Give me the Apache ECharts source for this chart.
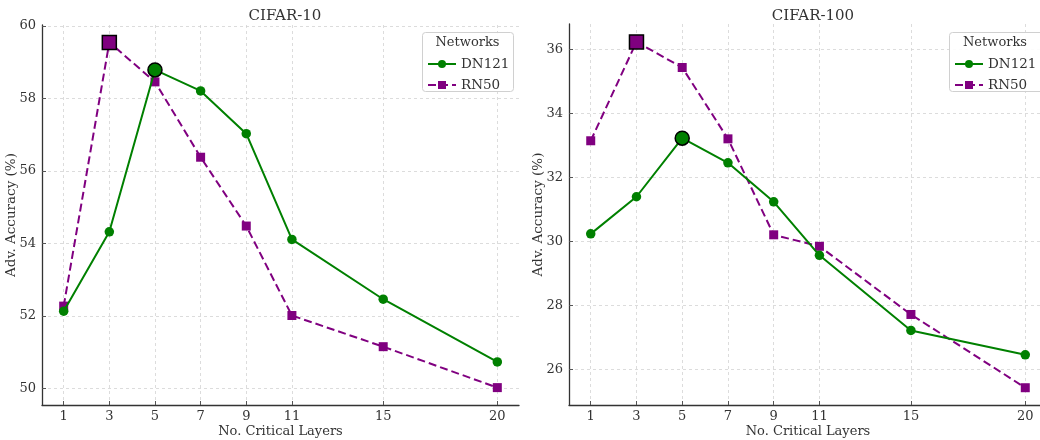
<!DOCTYPE html>
<html><head><meta charset="utf-8">
<script src="https://cdn.jsdelivr.net/npm/echarts@6/dist/echarts.min.js"></script>
<style>html,body{margin:0;padding:0;background:#fff}#c{width:1040px;height:440px}</style>
</head><body><div id="c"></div>
<script>
// ---- data ----
const layers = [1, 3, 5, 7, 9, 11, 15, 20];
const xTicks = [1, 3, 5, 7, 9, 11, 15, 20];
const c10_DN121 = [52.13, 54.32, 58.79, 58.21, 57.03, 54.11, 52.46, 50.73];
const c10_RN50  = [52.27, 59.55, 58.46, 56.38, 54.48, 52.01, 51.15, 50.02];
const c100_DN121 = [30.23, 31.39, 33.22, 32.45, 31.23, 29.56, 27.21, 26.45];
const c100_RN50  = [33.14, 36.23, 35.43, 33.20, 30.20, 29.84, 27.71, 25.42];
const c10_yTicks = [50, 52, 54, 56, 58, 60];
const c100_yTicks = [26, 28, 30, 32, 34, 36];
const titles = ['CIFAR-10', 'CIFAR-100'];
const seriesNames = ['DN121', 'RN50'];
const legendTitle = 'Networks';
const xName = 'No. Critical Layers';
const yName = 'Adv. Accuracy (%)';

const FONT = '"DejaVu Serif", "Liberation Serif", serif';
const GREEN = '#008000', PURPLE = '#800080', TXT = '#333';

function argmax(a){let m=0;for(let i=1;i<a.length;i++) if(a[i]>a[m]) m=i;return m;}
function mkData(vals, big){
  const hi = argmax(vals);
  return vals.map((v,i)=> i===hi
    ? {value:[layers[i], v], symbolSize: big, itemStyle:{borderColor:'#000', borderWidth:1.5}}
    : {value:[layers[i], v]});
}
function mkSeries(name, vals, idx, isDN){
  return {
    name, type:'line', xAxisIndex: idx, yAxisIndex: idx,
    data: mkData(vals, 14),
    symbol: isDN ? 'circle' : 'rect',
    symbolSize: isDN ? 9.5 : 9,
    showAllSymbol: true,
    lineStyle: {color: isDN?GREEN:PURPLE, width: 2, type: isDN?'solid':[8,4]},
    itemStyle: {color: isDN?GREEN:PURPLE},
    emphasis: {disabled:true},
    animation:false, z: isDN?3:2
  };
}
const grids = [
  {left: 42, top: 25, width: 477, bottom: 35, outerBoundsMode:'none', containLabel:false},
  {left: 569, top: 24, width: 478, bottom: 35, outerBoundsMode:'none', containLabel:false}
];
const yRanges = [[49.54, 60.03],[24.88, 36.79]];
const yTicksAll = [c10_yTicks, c100_yTicks];

function xAxis(i){
  return {
    type:'value', gridIndex:i, min:0.05, max:20.95,
    name:xName, nameLocation:'middle', nameGap:20, nameMoveOverlap:false,
    nameTextStyle:{fontFamily:FONT, fontSize:13, color:TXT},
    axisLine:{show:true, lineStyle:{color:'#333', width:1.3}},
    axisTick:{show:true, inside:true, length:4, customValues:xTicks, lineStyle:{color:'#555'}},
    axisLabel:{customValues:xTicks, fontFamily:FONT, fontSize:13, color:TXT, margin:5},
    splitLine:{show:true, lineStyle:{color:'#d4d4d4', type:[3,3], width:0.8}}
  };
}
function yAxis(i){
  return {
    type:'value', gridIndex:i, min:yRanges[i][0], max:yRanges[i][1],
    name:yName, nameLocation:'middle', nameGap:24, nameRotate:90, nameMoveOverlap:false,
    nameTextStyle:{fontFamily:FONT, fontSize:13.5, color:TXT},
    axisLine:{show:true, lineStyle:{color:'#333', width:1.3}},
    axisTick:{show:true, inside:true, length:4, customValues:yTicksAll[i], lineStyle:{color:'#555'}},
    axisLabel:{customValues:yTicksAll[i], fontFamily:FONT, fontSize:13, color:TXT, margin:6},
    splitLine:{show:true, lineStyle:{color:'#d4d4d4', type:[3,3], width:0.8}}
  };
}
const legBoxes = [{x:422, y:32, w:91, h:59},{x:949, y:32, w:100, h:59}];
function legend(i){
  const b = legBoxes[i];
  return {
    data: seriesNames, orient:'vertical', left: b.x, top: b.y+20,
    itemWidth: 28, itemHeight: 10, itemGap: 7, z: 20,
    textStyle:{fontFamily:FONT, fontSize:13.5, color:TXT},
    selectedMode:false
  };
}
const graphics = [];
legBoxes.forEach((b,i)=>{
  graphics.push({type:'rect', shape:{x:b.x+0.5, y:b.y+0.5, width:b.w, height:b.h, r:3},
    style:{fill:'rgba(255,255,255,0.9)', stroke:'#d0d0d0', lineWidth:1}, z:5});
  graphics.push({type:'text', x: (i===0? b.x+b.w/2 : b.x+46), y:b.y+11,
    style:{text:legendTitle, font:'13px '+FONT, fill:TXT, align:'center', verticalAlign:'middle'}, z:21});
});

const chart = echarts.init(document.getElementById('c'), null, {renderer:'canvas'});
chart.setOption({
  animation:false,
  backgroundColor:'#fff',
  title: titles.map((t,i)=>({text:t, left: (i===0? 280 : 808), top: 4, textAlign:'center',
    textStyle:{fontFamily:FONT, fontSize:15, fontWeight:'normal', color:TXT}})),
  grid: grids,
  xAxis: [xAxis(0), xAxis(1)],
  yAxis: [yAxis(0), yAxis(1)],
  legend: [legend(0), legend(1)],
  graphic: graphics,
  series: [
    mkSeries('DN121', c10_DN121, 0, true),
    mkSeries('RN50', c10_RN50, 0, false),
    mkSeries('DN121', c100_DN121, 1, true),
    mkSeries('RN50', c100_RN50, 1, false)
  ]
});
</script></body></html>
